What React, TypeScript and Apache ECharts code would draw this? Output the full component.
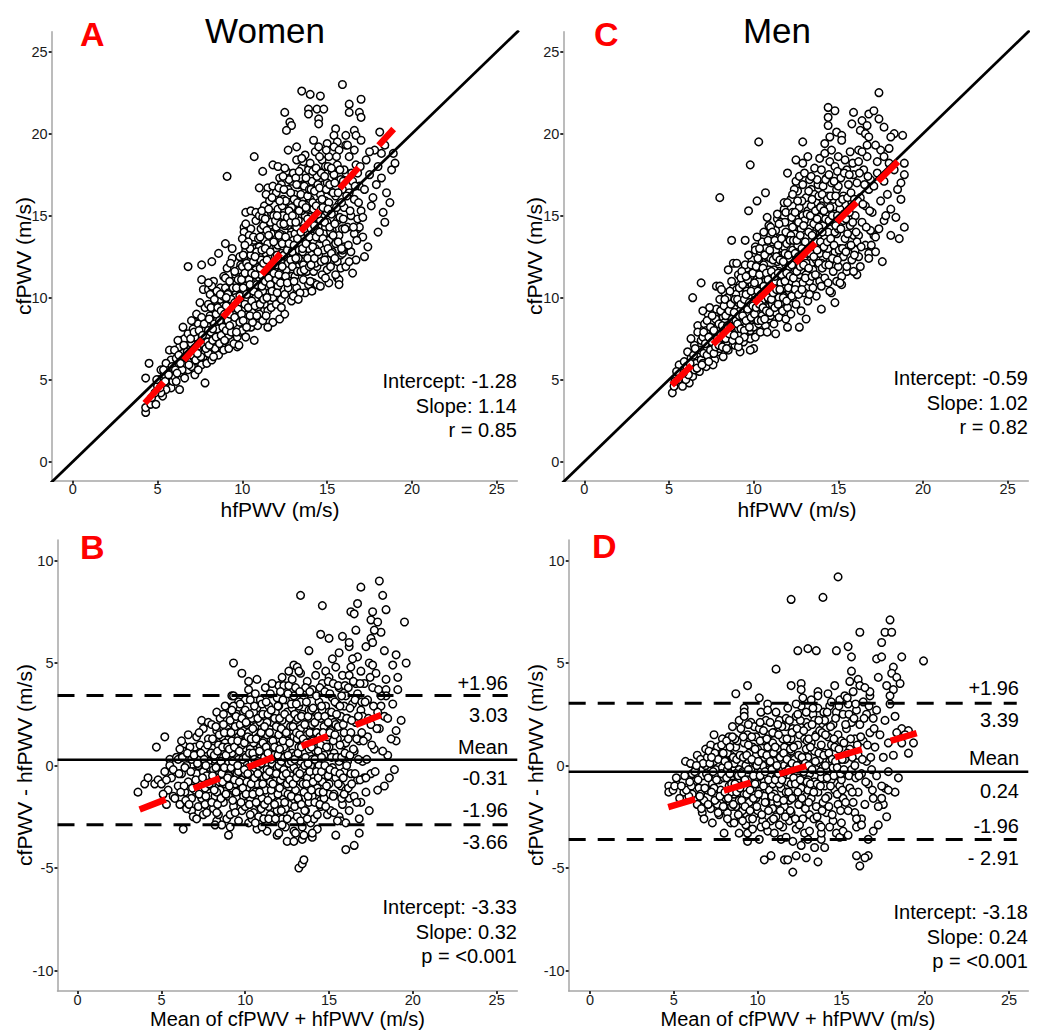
import React, { useEffect, useRef } from "react";
import * as echarts from "echarts";

// ---------- tick values ----------
const xTickValues = [0, 5, 10, 15, 20, 25];
const scatterYTicks = [0, 5, 10, 15, 20, 25];
const baYTicks = [-10, -5, 0, 5, 10];

// ---------- Women: [hfPWV, cfPWV] ----------
const womenScatter: number[][] = [
  [15.9,23.0],[13.5,22.6],[14.0,22.4],[14.6,22.3],[12.5,21.3],[13.9,21.5],[14.4,21.5],[14.8,21.5],[13.9,21.2],[14.5,20.9],[14.5,20.6],[12.8,20.7],[12.9,20.5],[12.6,20.2],[16.3,21.8],[17.0,22.1],[16.3,21.3],[16.9,21.3],[17.0,21.0],[15.5,20.3],[16.1,19.9],[16.6,20.2],[16.7,19.9],[17.0,19.6],[15.4,19.9],[15.6,19.5],[16.1,19.3],[18.1,20.1],[18.2,18.8],[18.9,18.8],[18.8,17.8],[18.0,18.0],[17.7,16.1],[18.3,15.2],[18.4,14.6],[18.0,14.0],[17.0,15.3],[16.8,14.2],[16.9,14.3],[17.1,13.7],[10.7,18.6],[11.8,18.1],[11.2,17.7],[9.1,17.4],[11.0,16.7],[11.5,16.7],[10.2,15.2],[10.5,15.3],[10.8,15.2],[10.1,14.3],[10.1,14.0],[13.2,19.2],[12.7,19.0],[14.2,19.6],
  [4.3,5.1],[4.5,6.0],[4.3,3.0],[4.3,3.3],[4.6,3.5],[4.9,3.5],[5.3,4.0],[5.2,5.6],[5.7,6.8],[5.8,4.5],[6.3,4.4],[7.8,4.8],[10.7,7.4],[9.7,7.0],[6.4,7.4],[6.5,8.2],[7.2,8.5],[6.8,11.9],[7.6,12.0],[8.2,12.2],[8.6,12.7],[7.6,11.1],[7.7,10.5],[8.0,10.5],[15.0,11.7],[15.1,10.9],[15.6,11.2],[15.7,11.1],[15.7,10.8],[14.2,10.9],[14.4,10.8],[15.8,12.6],[15.9,12.7],[13.7,10.3],[13.2,10.3],[11.8,8.5],[12.2,8.7],[12.5,9.0],[11.5,8.2],
  [5.0,4.6],[5.1,5.0],[5.3,4.8],[5.4,5.3],[5.5,4.4],[5.6,5.7],[5.7,5.1],[5.8,6.2],[5.9,5.5],[5.5,6.0],[5.2,4.2],[5.9,4.9],
  [6.0,5.2],[6.1,6.3],[6.2,5.8],[6.3,7.0],[6.4,5.4],[6.5,6.6],[6.6,7.5],[6.7,6.1],[6.8,5.6],[6.9,6.9],[6.0,6.8],[6.2,7.4],[6.4,6.2],[6.6,5.1],[6.8,7.8],[6.9,6.3],[6.5,5.9],[6.1,4.9],
  [7.0,5.8],[7.0,7.2],[7.1,6.4],[7.1,8.1],[7.2,5.3],[7.2,6.9],[7.3,7.7],[7.3,9.0],[7.4,6.1],[7.4,8.4],[7.5,6.7],[7.5,7.4],[7.6,8.8],[7.6,5.9],[7.7,7.9],[7.7,6.4],[7.8,9.4],[7.8,7.1],[7.9,8.3],[7.9,6.0],[7.2,7.6],[7.4,5.6],[7.6,8.1],[7.8,6.7],[7.0,8.6],[7.5,9.7],[7.9,7.6],
  [8.0,6.6],[8.0,8.0],[8.0,9.6],[8.1,7.3],[8.1,10.2],[8.2,6.2],[8.2,8.7],[8.3,7.7],[8.3,9.2],[8.3,11.0],[8.4,6.9],[8.4,8.2],[8.5,10.0],[8.5,7.4],[8.6,9.0],[8.6,6.5],[8.7,8.5],[8.7,10.6],[8.8,7.0],[8.8,9.5],[8.9,8.0],[8.9,11.3],[8.1,8.9],[8.4,9.8],[8.6,7.9],[8.8,8.8],[8.2,10.7],[8.5,8.6],[8.9,6.8],[8.3,6.4],[8.7,9.9],[8.0,10.9],
  [9.0,7.4],[9.0,9.0],[9.0,10.6],[9.1,8.2],[9.1,11.8],[9.2,6.9],[9.2,9.6],[9.3,8.6],[9.3,10.9],[9.4,7.8],[9.4,12.4],[9.5,9.2],[9.5,10.2],[9.5,7.2],[9.6,8.4],[9.6,11.4],[9.7,9.8],[9.7,7.6],[9.8,10.6],[9.8,8.9],[9.9,12.0],[9.9,7.9],[9.0,11.2],[9.2,10.3],[9.4,9.4],[9.6,10.0],[9.8,11.7],[9.1,8.8],[9.3,12.1],[9.7,8.2],[9.9,9.5],[9.5,11.0],[9.2,7.7],[9.8,7.1],[9.4,13.0],[9.0,13.3],
  [10.0,8.0],[10.0,10.0],[10.0,11.9],[10.0,13.6],[10.1,9.0],[10.1,12.5],[10.2,7.6],[10.2,10.7],[10.3,8.6],[10.3,11.4],[10.3,13.1],[10.4,9.6],[10.4,12.0],[10.5,8.2],[10.5,10.3],[10.5,14.2],[10.6,11.0],[10.6,9.2],[10.6,12.8],[10.7,8.8],[10.7,13.5],[10.8,10.0],[10.8,11.7],[10.9,9.4],[10.9,12.3],[10.9,8.3],[10.2,12.9],[10.4,11.1],[10.7,10.6],[10.1,10.4],[10.5,12.6],[10.8,13.0],[10.3,9.9],[10.6,8.5],[10.9,11.1],[10.0,9.3],[10.4,13.8],[10.8,14.7],[10.2,14.5],
  [11.0,9.0],[11.0,11.2],[11.0,13.1],[11.0,15.0],[11.1,10.1],[11.1,12.3],[11.1,14.2],[11.2,8.6],[11.2,11.6],[11.3,9.6],[11.3,13.5],[11.3,15.6],[11.4,10.7],[11.4,12.7],[11.5,9.2],[11.5,11.9],[11.5,14.6],[11.6,10.3],[11.6,13.0],[11.7,11.1],[11.7,15.2],[11.7,9.4],[11.8,12.2],[11.8,14.0],[11.9,10.6],[11.9,13.6],[11.9,16.1],[11.2,14.9],[11.4,16.3],[11.6,12.4],[11.8,10.0],[11.1,11.4],[11.3,12.0],[11.5,13.3],[11.7,13.9],[11.9,11.8],[11.0,10.3],[11.6,15.9],[11.2,10.4],[11.8,16.8],[11.4,8.9],
  [12.0,9.6],[12.0,12.0],[12.0,14.3],[12.0,16.4],[12.1,10.7],[12.1,13.2],[12.1,15.4],[12.2,11.5],[12.2,17.3],[12.3,9.9],[12.3,12.7],[12.3,14.9],[12.4,11.0],[12.4,13.8],[12.4,16.0],[12.5,12.2],[12.5,15.3],[12.5,10.2],[12.6,13.4],[12.6,17.7],[12.6,11.7],[12.7,14.4],[12.7,16.6],[12.7,10.6],[12.8,12.9],[12.8,15.8],[12.9,11.3],[12.9,14.0],[12.9,17.1],[12.2,13.9],[12.4,15.0],[12.6,12.5],[12.8,13.8],[12.0,11.1],[12.3,16.9],[12.5,14.4],[12.7,12.1],[12.9,15.5],[12.1,18.0],[12.5,17.9],[12.8,11.0],[12.3,9.4],[12.9,9.8],
  [13.0,10.1],[13.0,12.6],[13.0,15.1],[13.0,17.6],[13.1,11.3],[13.1,13.9],[13.1,16.3],[13.2,10.6],[13.2,12.9],[13.2,18.4],[13.3,11.9],[13.3,14.7],[13.3,16.9],[13.4,13.3],[13.4,15.6],[13.4,10.3],[13.5,12.2],[13.5,14.2],[13.5,17.9],[13.6,11.1],[13.6,13.6],[13.6,16.1],[13.7,15.0],[13.7,12.6],[13.7,18.7],[13.8,11.6],[13.8,14.0],[13.8,17.0],[13.9,13.0],[13.9,15.7],[13.9,10.8],[13.1,15.0],[13.3,12.4],[13.5,15.3],[13.7,16.6],[13.9,17.8],[13.2,14.3],[13.4,17.3],[13.6,12.0],[13.8,15.4],[13.0,13.5],[13.6,18.3],[13.3,9.9],
  [14.0,11.0],[14.0,13.4],[14.0,16.0],[14.0,18.2],[14.1,12.2],[14.1,14.6],[14.1,17.1],[14.2,11.6],[14.2,15.4],[14.3,13.0],[14.3,16.7],[14.3,18.9],[14.4,11.9],[14.4,14.1],[14.5,15.8],[14.5,12.6],[14.5,17.7],[14.6,13.6],[14.6,16.3],[14.7,11.4],[14.7,14.9],[14.7,18.4],[14.8,12.9],[14.8,16.9],[14.9,14.3],[14.9,15.9],[14.9,11.2],[14.2,13.5],[14.4,17.4],[14.6,14.7],[14.8,13.9],[14.0,14.9],[14.3,12.1],[14.5,19.2],[14.7,16.0],[14.9,18.0],[14.1,10.4],[14.6,10.7],
  [15.0,12.3],[15.0,14.6],[15.0,17.0],[15.1,13.5],[15.1,15.8],[15.1,18.6],[15.2,11.9],[15.2,16.5],[15.3,14.1],[15.3,12.8],[15.3,17.7],[15.4,15.2],[15.4,19.2],[15.5,13.3],[15.5,16.2],[15.6,12.2],[15.6,14.7],[15.6,18.1],[15.7,15.7],[15.7,13.8],[15.8,17.2],[15.8,11.8],[15.9,14.2],[15.9,16.6],[15.2,14.0],[15.4,17.5],[15.7,19.0],[15.9,12.9],[15.0,19.4],[15.5,11.4],
  [16.0,13.1],[16.0,15.5],[16.1,17.6],[16.1,11.9],[16.2,14.3],[16.3,16.4],[16.3,18.6],[16.4,12.8],[16.4,15.0],[16.5,17.1],[16.6,13.9],[16.6,16.0],[16.7,18.1],[16.7,12.3],[16.8,14.8],[16.9,16.8],[16.2,19.3],[16.5,11.5],[16.8,17.6],[16.0,17.8],
  [17.1,14.9],[17.2,16.6],[17.3,18.4],[17.4,13.1],[17.5,17.5],[17.6,15.6],[17.8,19.0],[17.2,12.5],[17.9,16.9],[17.5,18.9],
  [18.2,17.3],[18.5,16.4],[18.4,19.3],[18.7,15.8],[19.0,18.2]
];
const womenScatterCore: number[][] = [
  [5.15,4.5],[5.35,5.6],[5.45,4.9],[5.65,5.3],[5.85,5.8],[4.65,3.9],[4.85,4.2],[4.95,5.0],
  [6.05,5.6],[6.25,6.5],[6.45,5.6],[6.55,7.1],[6.75,6.7],[6.85,5.9],[6.35,6.0],[6.65,6.4],[6.95,7.5],[6.15,5.4],
  [7.05,6.5],[7.15,7.9],[7.25,6.2],[7.35,7.0],[7.45,8.0],[7.55,6.4],[7.65,7.2],[7.75,8.4],[7.85,6.9],[7.95,7.3],[7.35,6.6],[7.65,7.7],
  [8.05,7.1],[8.05,8.7],[8.15,7.9],[8.15,9.4],[8.25,7.4],[8.35,8.4],[8.35,9.9],[8.45,7.6],[8.45,9.0],[8.55,8.1],[8.55,9.4],[8.65,7.2],[8.65,8.6],[8.75,9.2],[8.75,7.7],[8.85,8.2],[8.85,10.1],[8.95,9.0],[8.95,7.4],[8.25,8.1],[8.5,10.4],[8.7,10.2],
  [9.05,8.0],[9.05,9.5],[9.15,10.2],[9.15,8.6],[9.25,9.0],[9.25,11.0],[9.35,7.9],[9.35,9.9],[9.45,8.4],[9.45,10.6],[9.55,9.7],[9.55,8.8],[9.65,10.6],[9.65,7.9],[9.75,9.3],[9.75,11.1],[9.85,8.5],[9.85,10.1],[9.95,9.0],[9.95,11.1],[9.25,8.3],[9.55,11.6],[9.85,12.5],[9.05,10.0],
  [10.05,8.6],[10.05,10.6],[10.05,12.6],[10.15,9.6],[10.15,11.5],[10.25,8.2],[10.25,10.2],[10.25,12.1],[10.35,9.4],[10.35,11.9],[10.45,8.9],[10.45,10.8],[10.45,13.0],[10.55,9.8],[10.55,11.5],[10.65,10.4],[10.65,12.2],[10.65,13.7],[10.75,9.5],[10.75,11.4],[10.85,8.9],[10.85,10.8],[10.85,12.8],[10.95,10.2],[10.95,13.6],[10.35,13.4],[10.75,12.5],[10.15,13.2],
  [11.05,9.6],[11.05,11.8],[11.05,13.7],[11.15,10.7],[11.15,12.9],[11.15,15.3],[11.25,9.9],[11.25,12.1],[11.25,14.4],[11.35,11.0],[11.35,13.0],[11.45,10.0],[11.45,12.3],[11.45,14.1],[11.55,11.2],[11.55,13.8],[11.55,15.4],[11.65,10.8],[11.65,12.8],[11.65,14.6],[11.75,12.0],[11.75,10.4],[11.85,13.4],[11.85,11.5],[11.85,15.0],[11.95,12.5],[11.95,14.7],[11.35,14.8],[11.75,16.1],
  [12.05,10.3],[12.05,12.6],[12.05,15.0],[12.15,11.4],[12.15,13.8],[12.15,16.7],[12.25,12.2],[12.25,14.5],[12.25,10.9],[12.35,13.3],[12.35,15.6],[12.35,11.9],[12.45,12.6],[12.45,14.5],[12.45,16.6],[12.55,11.3],[12.55,13.7],[12.55,15.9],[12.65,12.9],[12.65,14.9],[12.65,10.9],[12.75,13.3],[12.75,15.3],[12.75,17.2],[12.85,12.3],[12.85,14.6],[12.85,16.4],[12.95,12.8],[12.95,15.0],[12.95,11.9],[12.4,17.4],[12.2,15.9],
  [13.05,11.0],[13.05,13.2],[13.05,16.0],[13.15,12.4],[13.15,14.6],[13.15,17.3],[13.25,11.6],[13.25,13.6],[13.25,15.8],[13.35,12.9],[13.35,15.3],[13.35,17.7],[13.45,11.6],[13.45,14.0],[13.45,16.3],[13.55,12.8],[13.55,15.7],[13.55,13.0],[13.65,14.2],[13.65,16.8],[13.65,11.7],[13.75,13.3],[13.75,15.5],[13.75,17.3],[13.85,12.4],[13.85,14.8],[13.85,16.2],[13.95,13.7],[13.95,16.6],[13.95,11.9],[13.5,18.5],[13.2,16.9],
  [14.05,12.0],[14.05,14.2],[14.05,16.6],[14.15,13.1],[14.15,15.8],[14.15,17.7],[14.25,12.4],[14.25,14.4],[14.25,16.5],[14.35,13.7],[14.35,15.6],[14.35,17.9],[14.45,12.8],[14.45,15.1],[14.45,16.9],[14.55,14.0],[14.55,16.7],[14.55,18.6],[14.65,12.2],[14.65,15.4],[14.65,17.6],[14.75,13.6],[14.75,15.5],[14.85,14.6],[14.85,17.4],[14.85,12.3],[14.95,13.3],[14.95,16.6],[14.95,19.0],
  [15.05,13.0],[15.05,15.4],[15.05,18.0],[15.15,14.3],[15.15,16.9],[15.25,12.7],[15.25,15.1],[15.25,17.9],[15.35,13.8],[15.35,16.4],[15.45,14.5],[15.45,12.4],[15.45,17.0],[15.55,15.5],[15.55,18.6],[15.65,13.4],[15.65,16.4],[15.75,14.9],[15.75,17.8],[15.85,13.0],[15.85,15.8],[15.95,17.1],[15.95,14.8],
  [16.05,14.2],[16.15,16.2],[16.25,13.2],[16.35,15.3],[16.45,17.6],[16.55,14.3],[16.65,16.8],[16.75,13.5],[16.85,15.8],[16.95,18.0],[16.3,12.2],[16.6,19.0]
];

// ---------- Men: [hfPWV, cfPWV] ----------
const menScatter: number[][] = [
  [17.4,22.5],[14.4,21.6],[14.8,21.4],[14.4,21.0],[14.4,20.5],[15.9,21.3],[16.8,21.2],[17.1,21.4],[17.4,20.9],[16.4,20.8],[16.7,20.5],[17.7,20.4],[16.3,20.2],[16.6,20.0],[16.8,19.8],[14.9,20.1],[15.2,19.9],[14.5,19.8],[15.8,20.6],[18.8,19.9],[18.3,20.0],[18.1,19.8],[17.5,19.0],[17.7,18.6],[17.3,18.3],[18.0,18.2],[18.9,18.2],[10.3,19.5],[9.8,18.1],[12.9,19.5],[12.5,18.4],[12.9,18.2],[12.0,17.6],[12.5,17.1],[8.0,16.1],[10.7,16.4],[10.2,15.9],[9.7,15.3],[8.7,13.5],[9.5,13.5],[10.1,13.1],[11.0,13.8],[10.8,14.9],[11.4,14.8],[11.8,15.4],[11.9,15.2],[18.9,17.5],[18.7,17.0],[18.7,16.0],[18.9,14.3],[18.1,13.8],[18.6,13.6],[17.7,14.7],[17.1,13.8],[17.2,13.7],
  [5.2,4.2],[5.6,5.9],[6.2,4.8],[5.8,4.6],[5.3,4.6],[6.4,10.0],[6.7,8.3],[6.9,10.9],[7.8,10.7],[8.0,10.7],[8.5,11.7],[8.8,12.1],[12.7,8.2],[12.0,8.2],[13.1,8.7],[14.0,9.3],[14.8,9.7],[15.2,10.8],[14.6,10.3],[14.5,10.4],[16.1,11.4],[15.5,11.6],[16.2,12.5],[16.8,12.7],[10.0,6.9],[9.8,6.8],[9.2,6.7],[11.3,7.8],
  [5.7,5.3],[5.9,6.1],[6.0,5.0],[6.1,6.7],[6.2,5.6],[6.3,6.3],[6.4,5.2],[6.5,7.1],[6.6,6.0],[6.7,6.6],[6.8,5.5],[6.9,7.4],[6.5,5.6],[6.9,6.2],[6.3,7.5],[6.7,7.9],
  [7.0,6.0],[7.0,7.6],[7.1,6.8],[7.1,8.4],[7.2,5.8],[7.3,7.2],[7.3,9.0],[7.4,6.4],[7.5,7.9],[7.5,6.9],[7.6,8.6],[7.7,6.2],[7.7,7.4],[7.8,9.3],[7.8,8.1],[7.9,6.7],[7.9,7.7],[7.2,8.0],[7.4,9.4],[7.6,5.9],[7.0,9.2],
  [8.0,6.9],[8.0,8.4],[8.0,9.9],[8.1,7.6],[8.1,9.1],[8.2,6.4],[8.2,8.8],[8.3,7.2],[8.3,10.3],[8.4,8.0],[8.4,9.5],[8.5,6.8],[8.5,8.6],[8.6,7.5],[8.6,10.0],[8.7,9.0],[8.7,7.9],[8.8,8.4],[8.8,10.6],[8.9,7.1],[8.9,9.4],[8.1,10.5],[8.3,8.5],[8.5,9.8],[8.7,11.0],[8.9,8.1],[8.4,7.3],[8.6,8.9],[8.0,7.5],[8.8,9.8],
  [9.0,7.4],[9.0,8.9],[9.0,10.5],[9.1,8.1],[9.1,9.7],[9.1,11.4],[9.2,7.7],[9.2,9.2],[9.3,8.5],[9.3,10.2],[9.4,7.3],[9.4,9.6],[9.4,11.1],[9.5,8.2],[9.5,10.6],[9.6,7.9],[9.6,9.0],[9.6,11.8],[9.7,8.6],[9.7,10.0],[9.8,7.5],[9.8,9.4],[9.8,11.3],[9.9,8.3],[9.9,10.8],[9.9,12.3],[9.2,10.8],[9.5,12.0],[9.0,12.1],[9.3,11.6],[9.7,12.6],[9.4,8.8],[9.8,8.0],[9.6,10.4],[9.1,7.0],
  [10.0,8.2],[10.0,9.8],[10.0,11.6],[10.1,7.6],[10.1,10.5],[10.1,12.9],[10.2,9.0],[10.2,11.1],[10.3,8.4],[10.3,10.0],[10.3,12.3],[10.4,9.5],[10.4,11.5],[10.4,7.9],[10.5,10.8],[10.5,13.4],[10.5,8.9],[10.6,9.9],[10.6,12.0],[10.7,8.3],[10.7,11.0],[10.7,13.0],[10.8,9.4],[10.8,10.4],[10.8,12.5],[10.9,8.7],[10.9,11.7],[10.2,13.7],[10.6,14.0],[10.9,14.4],[10.0,10.6],[10.4,12.8],[10.8,7.9],[10.3,11.0],[10.6,10.7],[10.9,9.9],[10.1,8.8],
  [11.0,8.9],[11.0,10.7],[11.0,12.4],[11.1,9.6],[11.1,11.5],[11.1,13.4],[11.2,8.4],[11.2,10.2],[11.2,12.8],[11.3,9.1],[11.3,11.0],[11.3,14.1],[11.4,10.4],[11.4,12.2],[11.5,8.8],[11.5,11.6],[11.5,13.6],[11.6,9.7],[11.6,10.9],[11.6,14.6],[11.7,12.6],[11.7,9.2],[11.8,11.2],[11.8,13.1],[11.8,10.1],[11.9,12.0],[11.9,14.0],[11.9,8.7],[11.0,14.3],[11.4,15.1],[11.2,11.7],[11.6,12.4],[11.8,15.8],[11.3,12.9],[11.5,10.0],[11.7,11.5],[11.9,10.6],
  [12.0,9.4],[12.0,11.4],[12.0,13.5],[12.1,10.4],[12.1,12.4],[12.1,14.6],[12.2,9.0],[12.2,11.0],[12.2,16.0],[12.3,12.9],[12.3,10.0],[12.3,15.2],[12.4,11.8],[12.4,13.9],[12.5,9.6],[12.5,12.3],[12.5,14.8],[12.6,10.6],[12.6,13.2],[12.6,16.5],[12.7,11.4],[12.7,15.5],[12.8,12.6],[12.8,9.2],[12.8,14.2],[12.9,10.9],[12.9,13.6],[12.9,16.9],[12.0,15.8],[12.4,16.6],[12.7,17.4],[12.2,13.8],[12.6,12.0],[12.9,15.0],[12.1,11.9],[12.5,10.8],[12.8,11.7],[12.3,14.3],
  [13.0,10.3],[13.0,12.5],[13.0,14.7],[13.1,11.4],[13.1,13.7],[13.1,16.1],[13.2,9.8],[13.2,12.9],[13.2,15.3],[13.3,11.0],[13.3,14.2],[13.3,17.2],[13.4,12.1],[13.4,13.4],[13.4,16.6],[13.5,10.6],[13.5,15.0],[13.5,11.7],[13.6,13.0],[13.6,14.5],[13.6,17.9],[13.7,12.3],[13.7,15.8],[13.7,10.1],[13.8,13.8],[13.8,11.3],[13.8,16.9],[13.9,12.7],[13.9,14.9],[13.9,18.5],[13.0,17.6],[13.2,18.6],[13.4,15.6],[13.6,16.3],[13.8,15.4],[13.1,12.1],[13.5,13.9],[13.9,11.0],[13.3,10.2],
  [14.0,10.7],[14.0,13.1],[14.0,15.6],[14.0,17.8],[14.1,12.0],[14.1,14.4],[14.1,16.8],[14.2,11.2],[14.2,13.6],[14.2,18.8],[14.3,15.0],[14.3,12.6],[14.3,17.3],[14.4,10.9],[14.4,14.0],[14.4,16.2],[14.5,12.2],[14.5,15.5],[14.5,18.3],[14.6,13.3],[14.6,17.0],[14.7,11.6],[14.7,14.6],[14.7,16.0],[14.8,12.8],[14.8,18.0],[14.8,15.1],[14.9,13.9],[14.9,11.0],[14.9,16.6],[14.2,19.4],[14.6,19.0],[14.0,12.1],[14.4,13.0],[14.8,14.0],
  [15.0,11.9],[15.0,14.2],[15.0,16.8],[15.0,18.6],[15.1,13.0],[15.1,15.4],[15.2,11.3],[15.2,17.6],[15.3,14.7],[15.3,12.5],[15.3,16.2],[15.4,13.6],[15.4,18.4],[15.5,15.1],[15.5,11.9],[15.6,16.9],[15.6,13.1],[15.7,14.4],[15.7,18.9],[15.8,12.3],[15.8,15.8],[15.9,17.5],[15.9,13.8],[15.2,19.6],[15.5,17.8],[15.9,11.6],[15.1,10.9],
  [16.0,12.9],[16.0,15.0],[16.1,17.0],[16.2,13.8],[16.2,19.0],[16.3,16.1],[16.3,11.9],[16.4,14.6],[16.5,17.8],[16.6,13.2],[16.6,15.6],[16.7,18.6],[16.8,12.4],[16.8,16.6],[16.9,14.1],[16.4,18.9],[16.1,13.4],[16.9,17.2],
  [17.0,15.2],[17.1,16.8],[17.2,12.8],[17.3,17.6],[17.4,14.2],[17.5,15.9],[17.6,12.2],[17.7,17.1],[17.8,15.0],[17.9,16.3],[18.1,15.4],[18.3,17.8],[18.4,14.9],[18.5,16.6],[17.2,19.3],[18.0,19.1]
];
const menScatterCore: number[][] = [
  [6.05,5.8],[6.25,6.0],[6.45,6.5],[6.65,5.7],[6.85,6.8],[6.15,5.3],[6.55,6.9],[6.95,5.9],[5.85,5.4],[5.55,5.0],[5.45,5.5],[5.35,4.9],
  [7.05,6.6],[7.05,7.9],[7.15,7.2],[7.25,6.5],[7.25,8.6],[7.35,7.6],[7.45,6.8],[7.45,8.2],[7.55,7.3],[7.65,6.6],[7.65,8.0],[7.75,7.0],[7.75,8.7],[7.85,7.5],[7.95,8.4],[7.95,7.1],[7.35,6.1],[7.55,8.9],
  [8.05,7.8],[8.05,9.2],[8.15,8.3],[8.15,7.0],[8.25,9.5],[8.25,7.8],[8.35,8.9],[8.35,7.5],[8.45,8.3],[8.45,10.0],[8.55,7.8],[8.55,9.2],[8.65,8.2],[8.65,9.6],[8.75,7.4],[8.75,8.7],[8.85,9.1],[8.85,7.7],[8.95,8.6],[8.95,10.2],[8.4,6.9],[8.6,10.4],[8.3,9.9],[8.9,9.9],
  [9.05,8.4],[9.05,9.9],[9.15,8.9],[9.15,10.6],[9.25,8.1],[9.25,9.6],[9.35,8.9],[9.35,10.8],[9.45,8.0],[9.45,9.9],[9.55,8.6],[9.55,10.2],[9.65,9.3],[9.65,11.1],[9.75,8.2],[9.75,9.7],[9.85,10.4],[9.85,8.8],[9.95,9.5],[9.95,11.5],[9.25,11.2],[9.55,11.3],[9.85,12.0],[9.45,7.6],[9.15,7.4],
  [10.05,9.0],[10.05,10.9],[10.15,9.4],[10.15,11.9],[10.25,8.6],[10.25,10.4],[10.35,9.6],[10.35,11.4],[10.35,13.0],[10.45,8.6],[10.45,10.2],[10.55,9.4],[10.55,11.8],[10.65,10.3],[10.65,12.6],[10.75,9.2],[10.75,11.5],[10.85,10.0],[10.85,11.1],[10.95,9.1],[10.95,10.6],[10.95,12.9],[10.25,12.4],[10.65,8.7],[10.85,13.5],
  [11.05,9.9],[11.05,11.6],[11.15,10.3],[11.15,12.3],[11.25,9.4],[11.25,11.3],[11.25,13.5],[11.35,10.5],[11.35,12.5],[11.45,9.6],[11.45,11.5],[11.45,13.2],[11.55,10.5],[11.55,12.3],[11.65,11.4],[11.65,13.6],[11.75,10.0],[11.75,12.2],[11.85,11.0],[11.85,12.7],[11.85,14.6],[11.95,9.8],[11.95,11.5],[11.95,13.3],[11.5,14.5],[11.1,14.0],
  [12.05,10.6],[12.05,12.6],[12.15,11.3],[12.15,13.5],[12.25,10.1],[12.25,12.0],[12.25,14.9],[12.35,11.2],[12.35,13.5],[12.45,10.5],[12.45,12.7],[12.45,15.2],[12.55,11.6],[12.55,13.5],[12.65,10.2],[12.65,12.5],[12.65,14.6],[12.75,11.9],[12.75,13.8],[12.85,10.5],[12.85,13.0],[12.85,15.9],[12.95,12.0],[12.95,14.4],[12.3,16.3],[12.6,15.9],
  [13.05,11.2],[13.05,13.4],[13.15,12.7],[13.15,15.1],[13.25,11.8],[13.25,14.0],[13.25,16.5],[13.35,12.7],[13.35,15.0],[13.45,11.3],[13.45,13.8],[13.45,16.0],[13.55,12.5],[13.55,14.5],[13.65,11.4],[13.65,13.4],[13.65,15.3],[13.75,12.9],[13.75,14.8],[13.75,17.2],[13.85,12.1],[13.85,14.3],[13.85,16.2],[13.95,13.4],[13.95,15.5],[13.4,17.4],
  [14.05,11.8],[14.05,14.0],[14.05,16.3],[14.15,13.1],[14.15,15.3],[14.25,12.0],[14.25,14.8],[14.25,17.2],[14.35,13.4],[14.35,16.0],[14.45,12.0],[14.45,14.7],[14.45,17.5],[14.55,13.6],[14.55,16.2],[14.65,12.4],[14.65,15.0],[14.75,13.2],[14.75,17.1],[14.85,14.4],[14.85,16.2],[14.95,12.3],[14.95,15.0],[14.95,17.7],
  [15.05,12.9],[15.05,15.8],[15.15,14.2],[15.15,17.3],[15.25,13.0],[15.25,16.0],[15.35,15.1],[15.35,17.6],[15.45,12.8],[15.45,14.8],[15.55,16.1],[15.55,13.9],[15.65,15.2],[15.65,17.5],[15.75,13.2],[15.75,16.4],[15.85,14.6],[15.85,18.2],[15.95,16.0],[15.95,12.6],
  [16.05,14.0],[16.15,15.9],[16.25,17.6],[16.35,13.1],[16.45,15.7],[16.55,16.9],[16.65,14.3],[16.75,17.4],[16.85,15.3],[16.95,13.2],[16.2,18.3],[16.7,19.3]
];

// ---------- Women Bland-Altman: [mean, difference] ----------
const womenBA: number[][] = [
  [18.0,9.0],[16.9,8.7],[18.2,8.3],[13.3,8.3],[16.7,7.9],[14.6,7.8],[18.4,7.6],[16.3,7.5],[16.5,7.4],[17.6,7.5],[17.5,7.1],[17.9,7.0],[18.1,6.5],[19.5,7.0],[14.5,6.4],[15.0,6.2],[15.8,6.3],[17.5,6.2],[17.6,6.0],[13.8,5.6],[16.2,5.8],[16.7,5.3],[19.0,5.4],[19.6,5.0],[9.3,5.0],[12.9,4.9],[13.1,4.8],[13.3,4.5],[9.8,4.5],[10.2,4.1],[10.7,4.2],[9.2,3.4],[9.6,3.1],[10.0,3.2],[9.0,2.8],[9.3,2.6],[5.2,1.4],[4.7,0.9],[6.3,1.0],[7.0,0.9],[5.5,0.3],[18.5,0.5],[19.0,1.7],[19.0,1.2],
  [12.0,3.9],[12.3,3.9],[18.8,4.9],[19.1,4.3],[18.4,3.7],[18.4,3.4],[18.1,2.9],[18.3,2.4],
  [3.6,-1.3],[4.0,-0.9],[4.2,-0.6],[4.6,-0.9],[4.8,-0.7],[5.3,-1.9],[5.7,-1.5],[6.3,-3.1],[6.8,-2.2],[7.5,-2.4],[8.3,-2.7],[9.0,-3.4],[11.9,-3.4],[12.5,-3.7],[12.9,-3.7],[13.4,-3.6],[14.0,-3.5],[13.2,-5.0],[13.4,-4.8],[13.5,-4.6],[15.4,-3.4],[16.0,-4.1],[16.5,-3.9],[16.8,-3.3],[15.6,-2.5],[15.7,-2.7],[16.2,-1.6],[16.9,-1.8],[18.3,-1.0],[15.0,-1.4],[14.5,-1.7],[17.1,-0.6],[18.9,-0.2],
  [5.0,-0.9],[5.2,-0.3],[5.4,-1.2],[5.5,0.0],[5.6,-0.6],[5.8,-1.6],[5.9,0.4],[5.3,-0.7],[5.7,-0.2],[5.1,-1.4],
  [6.0,-1.0],[6.0,0.3],[6.1,-1.9],[6.2,-0.4],[6.3,0.7],[6.4,-1.3],[6.5,0.0],[6.5,-2.1],[6.6,-0.8],[6.7,0.9],[6.8,-1.6],[6.8,0.3],[6.9,-0.3],[6.2,1.2],[6.6,1.5],[6.9,-2.5],[6.4,-0.1],[6.1,0.8],
  [7.0,-1.2],[7.0,0.5],[7.1,-0.4],[7.1,1.4],[7.2,-2.0],[7.2,0.0],[7.3,-0.9],[7.3,1.0],[7.4,-1.6],[7.4,0.4],[7.5,-0.3],[7.5,1.8],[7.6,-1.1],[7.6,0.8],[7.7,-2.3],[7.7,-0.5],[7.8,0.2],[7.8,1.3],[7.9,-1.5],[7.9,-0.1],[7.1,-2.6],[7.4,2.2],[7.8,2.1],[7.6,-1.9],[7.3,0.3],
  [8.0,-1.0],[8.0,0.6],[8.0,2.0],[8.1,-2.1],[8.1,-0.2],[8.1,1.2],[8.2,-1.5],[8.2,0.3],[8.3,-0.6],[8.3,1.7],[8.3,2.6],[8.4,-2.4],[8.4,0.0],[8.5,-1.2],[8.5,0.9],[8.5,2.3],[8.6,-0.4],[8.6,1.4],[8.7,-1.8],[8.7,0.4],[8.8,-0.9],[8.8,1.1],[8.8,2.9],[8.9,-2.6],[8.9,-0.1],[8.9,1.8],[8.2,-2.9],[8.6,-2.9],[8.4,1.0],[8.7,2.0],[8.0,-1.8],[8.3,-1.3],
  [9.0,-1.5],[9.0,0.1],[9.0,1.6],[9.1,-2.4],[9.1,-0.6],[9.1,2.2],[9.2,-1.1],[9.2,0.6],[9.2,1.2],[9.3,-0.2],[9.3,-2.0],[9.3,2.9],[9.4,-0.9],[9.4,0.9],[9.4,1.9],[9.5,-1.6],[9.5,-0.4],[9.5,2.5],[9.6,0.3],[9.6,1.4],[9.6,-2.7],[9.7,-1.2],[9.7,0.0],[9.7,2.0],[9.8,-0.7],[9.8,1.0],[9.8,-2.2],[9.9,0.5],[9.9,1.7],[9.9,-1.5],[9.3,3.4],[9.7,3.0],[9.1,-3.0],[9.5,0.8],[9.9,2.6],[9.0,-0.5],[9.6,-0.3],
  [10.0,-2.0],[10.0,-0.4],[10.0,1.2],[10.0,2.7],[10.1,-1.1],[10.1,0.4],[10.1,2.0],[10.2,-2.8],[10.2,-0.1],[10.2,1.6],[10.3,-1.6],[10.3,0.8],[10.3,3.2],[10.4,-0.7],[10.4,0.2],[10.4,2.3],[10.5,-2.3],[10.5,1.1],[10.5,-0.3],[10.6,-1.3],[10.6,0.6],[10.6,1.9],[10.7,-0.9],[10.7,2.8],[10.7,-3.1],[10.8,0.0],[10.8,1.4],[10.8,-1.9],[10.9,0.9],[10.9,-0.5],[10.9,2.1],[10.2,3.7],[10.6,3.5],[10.4,-2.6],[10.8,-2.5],[10.1,-0.8],[10.5,2.6],[10.9,3.2],[10.3,-0.4],
  [11.0,-1.6],[11.0,0.2],[11.0,1.8],[11.0,3.0],[11.1,-0.6],[11.1,1.2],[11.1,-2.6],[11.2,0.7],[11.2,2.4],[11.2,-1.2],[11.3,-0.2],[11.3,1.5],[11.3,-3.2],[11.4,0.4],[11.4,2.9],[11.4,-2.0],[11.5,-0.8],[11.5,1.0],[11.5,3.5],[11.6,-1.5],[11.6,0.1],[11.6,2.1],[11.7,-0.4],[11.7,1.6],[11.7,-2.7],[11.8,0.8],[11.8,2.6],[11.8,-1.0],[11.9,-0.1],[11.9,1.3],[11.9,-2.2],[11.2,3.8],[11.6,4.0],[11.0,-3.0],[11.5,-2.4],[11.9,3.3],[11.3,2.1],[11.7,0.5],
  [12.0,-1.8],[12.0,0.0],[12.0,1.5],[12.0,2.9],[12.1,-0.7],[12.1,1.0],[12.1,3.6],[12.2,-2.6],[12.2,0.4],[12.2,2.2],[12.3,-1.3],[12.3,-0.2],[12.3,1.7],[12.4,0.8],[12.4,-3.0],[12.4,3.2],[12.5,-0.9],[12.5,1.2],[12.5,2.6],[12.6,-1.9],[12.6,0.1],[12.6,3.9],[12.7,-0.5],[12.7,1.9],[12.7,-2.4],[12.8,0.6],[12.8,2.8],[12.8,-1.4],[12.9,-0.1],[12.9,1.4],[12.9,3.4],[12.9,-3.2],[12.2,4.3],[12.6,4.6],[12.4,-2.1],[12.0,-3.3],[12.8,4.2],[12.3,0.9],
  [13.0,-1.2],[13.0,0.5],[13.0,2.2],[13.0,3.8],[13.1,-2.5],[13.1,-0.3],[13.1,1.3],[13.2,0.9],[13.2,2.9],[13.2,-1.7],[13.3,-0.8],[13.3,0.2],[13.3,1.8],[13.4,-3.0],[13.4,2.5],[13.4,-0.2],[13.5,1.1],[13.5,3.3],[13.5,-1.3],[13.6,-2.2],[13.6,0.4],[13.6,2.0],[13.7,-0.6],[13.7,1.5],[13.7,4.1],[13.8,-1.8],[13.8,0.8],[13.8,2.7],[13.9,0.0],[13.9,3.5],[13.9,-2.8],[13.2,4.6],[13.6,3.8],[13.0,-3.3],[13.5,-3.4],[13.9,1.9],[13.3,3.1],
  [14.0,-1.5],[14.0,0.3],[14.0,2.0],[14.0,3.7],[14.1,-0.5],[14.1,1.2],[14.1,-2.6],[14.2,0.7],[14.2,2.6],[14.2,4.4],[14.3,-1.1],[14.3,1.6],[14.3,-3.1],[14.4,0.0],[14.4,3.1],[14.5,-2.0],[14.5,1.0],[14.5,2.3],[14.6,-0.8],[14.6,4.0],[14.7,0.5],[14.7,1.9],[14.7,-1.6],[14.8,2.9],[14.8,-0.2],[14.9,1.4],[14.9,3.5],[14.9,-2.4],[14.3,4.9],[14.8,4.6],[14.0,-3.3],[14.6,2.7],[14.4,-1.3],
  [15.0,-0.9],[15.0,0.9],[15.0,2.6],[15.0,4.3],[15.1,-2.2],[15.1,1.7],[15.2,-0.1],[15.2,3.3],[15.3,-1.4],[15.3,0.6],[15.3,2.1],[15.4,4.8],[15.4,-0.6],[15.5,1.3],[15.5,3.0],[15.5,-2.7],[15.6,0.2],[15.6,3.8],[15.7,-1.0],[15.7,2.4],[15.8,1.0],[15.8,4.4],[15.8,-1.9],[15.9,-0.3],[15.9,2.9],[15.2,5.2],[15.6,5.5],[15.4,2.0],[15.9,1.6],
  [16.0,-1.2],[16.0,1.1],[16.0,3.4],[16.1,0.2],[16.1,2.3],[16.2,4.4],[16.2,-2.2],[16.3,1.6],[16.3,-0.4],[16.4,3.0],[16.4,5.2],[16.5,0.7],[16.5,-1.5],[16.6,2.1],[16.6,4.0],[16.7,-0.7],[16.7,3.5],[16.8,1.2],[16.8,-2.6],[16.9,2.7],[16.9,4.6],[16.2,6.0],[16.6,6.6],[16.0,-2.8],
  [17.0,0.2],[17.0,2.4],[17.1,4.0],[17.2,-1.3],[17.3,1.4],[17.3,3.2],[17.4,5.0],[17.5,-0.4],[17.5,2.0],[17.6,3.8],[17.7,0.8],[17.8,4.5],[17.9,2.6],[17.9,-1.2],[17.2,5.8],[17.7,6.6],[17.4,-2.2],
  [18.0,1.8],[18.1,3.4],[18.2,0.7],[18.4,4.2],[18.5,2.3],[18.7,1.3],[18.8,3.0],[18.3,5.6],[19.1,3.7],[19.3,2.2],[18.6,-0.6]
];
const womenBACore: number[][] = [
  [6.05,-0.4],[6.25,0.4],[6.35,-1.0],[6.55,0.6],[6.75,-0.3],[6.85,-1.1],[6.95,0.5],[6.45,-1.7],[6.15,-1.3],[6.65,-1.9],
  [7.05,-0.7],[7.15,0.1],[7.25,-1.4],[7.35,0.6],[7.45,-0.6],[7.55,0.3],[7.65,-1.5],[7.75,1.0],[7.85,-0.9],[7.95,0.6],[7.25,1.6],[7.65,0.0],
  [8.05,-0.5],[8.05,1.3],[8.15,-1.2],[8.15,0.5],[8.25,-0.1],[8.25,1.9],[8.35,-1.9],[8.35,0.7],[8.45,-0.8],[8.45,1.5],[8.55,0.2],[8.55,-1.6],[8.65,0.9],[8.65,-0.8],[8.75,-0.1],[8.75,1.6],[8.85,-1.4],[8.85,0.5],[8.95,0.9],[8.95,-0.6],[8.3,-2.3],[8.7,2.5],
  [9.05,-1.0],[9.05,0.8],[9.15,-0.1],[9.15,1.6],[9.25,-1.7],[9.25,0.2],[9.35,0.9],[9.35,-0.7],[9.45,2.4],[9.45,-1.3],[9.55,0.0],[9.55,1.2],[9.65,-0.8],[9.65,0.7],[9.75,-1.8],[9.75,1.6],[9.85,0.3],[9.85,-1.1],[9.95,1.1],[9.95,-0.2],[9.4,-2.3],[9.8,2.3],[9.2,2.7],
  [10.05,-1.4],[10.05,0.4],[10.05,2.1],[10.15,-0.4],[10.15,1.4],[10.25,-1.9],[10.25,0.6],[10.25,2.5],[10.35,-0.9],[10.35,1.3],[10.45,-1.4],[10.45,0.6],[10.45,1.8],[10.55,-0.6],[10.55,0.3],[10.55,2.9],[10.65,-1.8],[10.65,1.3],[10.75,0.2],[10.75,-0.4],[10.75,2.3],[10.85,-1.3],[10.85,0.7],[10.95,-2.1],[10.95,1.6],[10.95,0.1],[10.3,-2.4],[10.6,-2.8],
  [11.05,-0.9],[11.05,1.1],[11.05,2.5],[11.15,-1.9],[11.15,0.4],[11.15,1.9],[11.25,-0.5],[11.25,0.9],[11.25,3.1],[11.35,-1.7],[11.35,0.6],[11.35,2.5],[11.45,-0.3],[11.45,1.6],[11.55,-1.2],[11.55,0.3],[11.55,2.7],[11.65,-0.9],[11.65,1.2],[11.75,-1.9],[11.75,0.9],[11.75,2.3],[11.85,-0.4],[11.85,1.9],[11.95,-1.4],[11.95,0.5],[11.95,2.9],[11.4,-2.6],[11.8,-2.6],
  [12.05,-1.1],[12.05,0.8],[12.05,2.3],[12.15,-2.2],[12.15,0.2],[12.15,1.8],[12.25,-0.5],[12.25,1.2],[12.25,3.2],[12.35,-1.8],[12.35,0.4],[12.35,2.5],[12.45,-0.4],[12.45,1.6],[12.55,-1.4],[12.55,0.5],[12.55,3.5],[12.65,-0.7],[12.65,1.1],[12.65,2.3],[12.75,-1.5],[12.75,0.2],[12.75,3.0],[12.85,-0.9],[12.85,1.9],[12.95,-2.0],[12.95,0.3],[12.95,2.5],[12.5,-2.6],[12.2,-2.9],
  [13.05,-0.6],[13.05,1.6],[13.05,3.0],[13.15,-1.6],[13.15,0.6],[13.15,2.3],[13.25,-0.4],[13.25,1.5],[13.25,3.6],[13.35,-1.9],[13.35,0.9],[13.35,2.4],[13.45,-0.9],[13.45,1.3],[13.55,0.0],[13.55,2.0],[13.55,-2.2],[13.65,-0.9],[13.65,1.1],[13.65,3.1],[13.75,-1.5],[13.75,0.1],[13.75,2.4],[13.85,-0.3],[13.85,1.6],[13.85,3.6],[13.95,-1.2],[13.95,0.9],[13.95,2.7],[13.3,-2.7],[13.7,-2.6],
  [14.05,-0.8],[14.05,1.2],[14.05,2.8],[14.15,0.3],[14.15,2.1],[14.15,-1.8],[14.25,-0.3],[14.25,1.6],[14.25,3.4],[14.35,-0.6],[14.35,0.7],[14.35,2.4],[14.45,-1.9],[14.45,1.4],[14.45,3.8],[14.55,-0.3],[14.55,0.4],[14.55,2.9],[14.65,-1.3],[14.65,1.6],[14.75,0.0],[14.75,2.4],[14.75,3.6],[14.85,-1.0],[14.85,0.9],[14.95,-0.5],[14.95,2.1],[14.95,4.1],[14.3,-2.4],[14.8,-2.0],
  [15.05,-0.2],[15.05,1.6],[15.05,3.5],[15.15,0.4],[15.15,2.6],[15.25,-1.5],[15.25,1.2],[15.25,4.0],[15.35,-0.3],[15.35,1.5],[15.35,3.1],[15.45,0.4],[15.45,2.5],[15.55,-0.9],[15.55,1.9],[15.55,3.9],[15.65,-0.4],[15.65,1.0],[15.65,2.9],[15.75,-1.6],[15.75,0.4],[15.75,3.4],[15.85,-0.6],[15.85,2.0],[15.95,0.6],[15.95,3.9],[15.3,-2.3],[15.9,-1.4],
  [16.05,0.0],[16.05,2.3],[16.15,-1.1],[16.15,1.3],[16.15,3.8],[16.25,0.5],[16.25,2.8],[16.35,-0.9],[16.35,2.2],[16.45,0.8],[16.45,4.1],[16.55,-0.4],[16.55,3.2],[16.65,1.3],[16.65,-1.8],[16.75,0.3],[16.75,2.4],[16.85,4.0],[16.85,-0.7],[16.95,1.6],[16.95,3.1],[16.3,4.8],
  [17.05,1.2],[17.15,3.1],[17.25,0.3],[17.35,2.3],[17.45,4.3],[17.55,1.0],[17.65,2.9],[17.75,-0.3],[17.85,1.8],[17.95,3.7],[17.2,-0.6],[17.6,4.9]
];

// ---------- Men Bland-Altman: [mean, difference] ----------
const menBA: number[][] = [
  [14.8,9.2],[12.0,8.1],[13.9,8.2],[17.9,7.1],[17.6,6.5],[18.0,6.5],[16.1,6.5],[17.4,6.0],[12.4,5.6],[13.0,5.7],[13.5,5.6],[14.7,5.6],[15.4,5.8],[15.6,5.3],[17.1,5.2],[17.4,5.3],[18.6,5.3],[18.1,4.8],[19.9,5.1],[11.1,4.7],[9.4,3.9],[8.7,3.5],[12.0,3.9],[12.6,4.0],[12.6,3.7],[13.6,3.6],[9.2,2.8],[9.2,2.6],[10.1,3.3],[10.6,3.0],[7.4,1.5],[5.7,0.2],[19.3,1.1],[18.6,1.8],[19.0,1.7],
  [15.6,4.6],[16.0,4.2],[16.1,3.9],[17.2,4.3],[18.0,4.5],[18.3,4.3],[17.7,3.9],[18.1,3.7],[17.9,3.4],[18.5,4.0],[16.7,3.4],
  [4.7,-1.0],[5.2,-0.9],[5.6,-1.3],[6.1,-1.4],[5.9,-1.5],[4.7,-1.3],[6.7,-2.3],[7.4,-2.0],[8.0,-3.3],[8.9,-3.3],[9.4,-3.3],[9.4,-3.7],[10.4,-4.6],[10.8,-4.4],[11.6,-4.6],[11.8,-4.6],[12.3,-4.4],[12.9,-4.5],[13.6,-4.7],[12.1,-5.2],[15.9,-4.4],[16.6,-4.4],[16.1,-4.9],[16.4,-4.5],[15.8,-2.3],[16.2,-2.6],[17.2,-2.9],[16.9,-3.2],[15.9,-3.0],[17.6,-1.1],[18.2,-1.3],[17.5,-1.9],[17.4,-1.6],[17.8,-1.2],[14.7,-3.3],[14.9,-3.5],[15.1,-3.2],[15.4,-3.4],[13.0,-3.6],[13.8,-3.6],[14.0,-4.0],[13.4,-4.0],[16.6,-3.6],[6.0,0.1],[6.4,0.5],
  [6.2,-0.8],[6.3,-0.2],[6.5,-1.1],[6.6,0.3],[6.7,-0.5],[6.8,-1.7],[6.9,0.0],[6.4,-1.9],[6.6,-1.4],[6.9,0.8],[6.1,-0.4],[6.8,-2.6],
  [7.0,-1.2],[7.0,0.4],[7.1,-0.5],[7.2,-2.1],[7.2,1.0],[7.3,-0.9],[7.4,0.2],[7.5,-1.5],[7.5,-0.2],[7.6,0.9],[7.7,-2.4],[7.7,-0.7],[7.8,0.4],[7.8,-1.2],[7.9,1.3],[7.9,-0.1],[7.3,-2.8],[7.6,-1.9],[7.1,0.7],[7.4,-1.1],
  [8.0,-0.6],[8.0,0.9],[8.1,-1.6],[8.1,0.2],[8.2,-2.3],[8.2,-0.2],[8.3,1.4],[8.3,-1.0],[8.4,0.5],[8.4,-2.8],[8.5,-0.5],[8.5,1.9],[8.6,-1.4],[8.6,0.1],[8.7,0.9],[8.7,-2.0],[8.8,-0.8],[8.8,1.2],[8.9,-0.2],[8.9,-1.7],[8.0,-2.0],[8.4,-1.3],[8.6,-2.8],[8.9,2.2],[8.2,0.6],[8.7,-0.4],
  [9.0,-1.0],[9.0,0.5],[9.0,1.8],[9.1,-0.3],[9.1,-2.2],[9.2,1.1],[9.2,-1.4],[9.3,0.0],[9.3,-2.9],[9.4,1.5],[9.4,-0.7],[9.5,0.6],[9.5,-1.8],[9.6,-0.2],[9.6,2.1],[9.7,-1.1],[9.7,0.9],[9.8,-2.4],[9.8,0.2],[9.9,-0.6],[9.9,1.4],[9.9,-1.6],[9.2,2.4],[9.5,-2.6],[9.7,-3.1],[9.0,-2.6],[9.4,0.3],[9.8,1.9],[9.3,-1.1],
  [10.0,-0.9],[10.0,0.8],[10.0,-2.2],[10.1,0.1],[10.1,1.8],[10.2,-1.4],[10.2,-0.3],[10.3,1.2],[10.3,-2.7],[10.4,0.4],[10.4,-0.8],[10.5,2.2],[10.5,-1.8],[10.5,-0.1],[10.6,0.9],[10.6,-3.2],[10.7,-1.2],[10.7,1.5],[10.8,-0.5],[10.8,0.3],[10.9,-2.1],[10.9,1.1],[10.9,-0.9],[10.2,2.6],[10.6,2.7],[10.8,-2.7],[10.1,-3.6],[10.4,-1.5],[10.7,-0.2],[10.3,0.0],
  [11.0,-1.4],[11.0,0.2],[11.0,1.6],[11.1,-0.6],[11.1,-2.5],[11.2,0.8],[11.2,-1.8],[11.3,-0.2],[11.3,2.2],[11.4,-1.1],[11.4,0.5],[11.5,-3.0],[11.5,1.3],[11.5,-0.5],[11.6,0.0],[11.6,-2.0],[11.7,1.9],[11.7,-1.3],[11.8,0.6],[11.8,-0.8],[11.8,2.8],[11.9,-2.7],[11.9,-0.1],[11.9,1.2],[11.1,2.6],[11.4,-3.6],[11.7,-3.5],[11.3,-0.9],[11.6,0.9],[11.0,-3.3],[11.9,-1.7],
  [12.0,-0.9],[12.0,0.7],[12.0,-2.3],[12.1,-0.2],[12.1,1.8],[12.2,-1.5],[12.2,0.3],[12.3,2.4],[12.3,-3.1],[12.4,-0.6],[12.4,1.0],[12.5,-1.9],[12.5,0.0],[12.5,1.5],[12.6,-1.1],[12.6,2.9],[12.7,0.4],[12.7,-2.6],[12.8,-0.4],[12.8,1.3],[12.9,-1.5],[12.9,0.8],[12.9,2.1],[12.1,-3.7],[12.6,-3.9],[12.3,3.0],[12.7,3.3],[12.0,1.3],[12.4,-1.3],[12.8,-3.3],[12.2,-0.7],
  [13.0,-1.2],[13.0,0.4],[13.0,1.9],[13.1,-0.4],[13.1,-2.4],[13.2,1.1],[13.2,-1.6],[13.3,0.0],[13.3,2.5],[13.4,-0.8],[13.4,0.7],[13.5,-2.0],[13.5,1.5],[13.5,-0.2],[13.6,2.8],[13.6,-1.3],[13.7,0.3],[13.7,-2.9],[13.8,1.0],[13.8,-0.6],[13.9,2.0],[13.9,-1.8],[13.9,-0.1],[13.2,3.2],[13.6,3.4],[13.1,-3.2],[13.8,-3.3],[13.4,2.2],[13.0,-0.7],[13.7,1.7],
  [14.0,-1.0],[14.0,0.6],[14.0,2.2],[14.1,-0.2],[14.1,-2.3],[14.2,1.4],[14.2,-1.5],[14.3,0.2],[14.3,2.9],[14.4,-0.7],[14.4,1.0],[14.5,-2.7],[14.5,2.0],[14.5,-0.1],[14.6,-1.2],[14.6,0.9],[14.7,2.6],[14.7,-0.5],[14.8,1.5],[14.8,-1.9],[14.9,0.3],[14.9,3.2],[14.2,3.5],[14.6,3.9],[14.9,-1.0],[14.3,-3.0],[14.1,1.8],
  [15.0,-0.7],[15.0,1.2],[15.1,-1.6],[15.1,2.5],[15.2,0.3],[15.3,-0.4],[15.3,1.8],[15.4,-2.2],[15.4,3.0],[15.5,0.8],[15.5,-1.1],[15.6,2.1],[15.6,-0.2],[15.7,3.6],[15.7,-1.8],[15.8,1.3],[15.8,0.0],[15.9,2.7],[15.9,-2.6],[15.2,3.4],[15.5,4.1],[15.0,-2.8],
  [16.0,0.5],[16.0,-1.3],[16.1,2.0],[16.2,-0.4],[16.3,1.2],[16.3,3.1],[16.4,-1.9],[16.5,0.2],[16.5,2.5],[16.6,-0.9],[16.7,1.6],[16.7,3.6],[16.8,-0.2],[16.9,2.3],[16.9,-1.6],[16.4,3.8],[16.2,-2.9],
  [17.0,0.9],[17.1,-0.5],[17.1,2.7],[17.3,1.5],[17.4,-1.0],[17.5,0.4],[17.6,2.2],[17.8,-0.3],[17.8,1.1],[17.9,3.0],[17.2,-2.0],[17.7,-2.5],
  [18.1,0.5],[18.3,1.6],[18.4,-0.6],[18.6,1.1],[18.2,2.4],[18.8,1.5],[19.0,0.6]
];
const menBACore: number[][] = [
  [4.95,-1.2],[5.15,-0.6],[5.35,-1.6],[5.55,-0.8],[5.75,-1.2],[5.05,-1.0],
  [6.05,-1.0],[6.25,-0.3],[6.45,-0.7],[6.55,-1.5],[6.75,0.1],[6.85,-1.1],[6.95,-0.4],[6.35,0.0],[6.65,-2.1],[5.95,-0.8],[5.45,-1.0],[5.65,-0.5],
  [7.05,-0.6],[7.05,-1.9],[7.15,0.1],[7.25,-1.3],[7.35,-0.3],[7.45,0.6],[7.45,-1.7],[7.55,-0.7],[7.65,0.3],[7.75,-1.5],[7.85,-0.4],[7.95,0.6],[7.95,-2.0],[7.25,0.4],[7.65,-2.3],[7.85,1.0],
  [8.05,-1.3],[8.05,0.2],[8.15,-0.6],[8.15,1.2],[8.25,-1.6],[8.25,0.0],[8.35,-0.4],[8.35,0.9],[8.45,-2.0],[8.45,-0.9],[8.55,0.4],[8.55,-1.9],[8.65,-0.9],[8.65,1.3],[8.75,-1.3],[8.75,0.3],[8.85,-0.5],[8.85,-2.4],[8.95,0.5],[8.95,-1.1],[8.5,1.4],[8.2,-2.6],
  [9.05,-0.4],[9.05,-1.7],[9.15,0.4],[9.15,1.4],[9.25,-0.7],[9.25,-2.0],[9.35,0.5],[9.35,-1.4],[9.45,-0.2],[9.45,1.0],[9.55,-1.2],[9.55,-2.2],[9.65,0.3],[9.65,1.4],[9.75,-0.5],[9.75,-1.6],[9.85,0.8],[9.85,-0.9],[9.95,-2.0],[9.95,0.0],[9.45,2.0],[9.1,-2.7],[9.7,-2.6],
  [10.05,-1.4],[10.05,0.2],[10.15,-0.5],[10.15,1.2],[10.25,-2.4],[10.25,0.6],[10.35,-1.0],[10.35,1.7],[10.45,-0.3],[10.45,-1.8],[10.55,0.5],[10.55,1.3],[10.65,-0.7],[10.65,-2.2],[10.75,0.2],[10.75,2.1],[10.85,-1.5],[10.85,-0.2],[10.95,0.6],[10.95,-2.6],[10.2,-3.0],[10.5,-2.9],[10.9,1.6],[10.15,2.1],
  [11.05,-0.7],[11.05,0.9],[11.15,-1.6],[11.15,0.0],[11.25,-0.4],[11.25,1.5],[11.35,-2.2],[11.35,0.4],[11.45,-0.7],[11.45,1.9],[11.55,-1.7],[11.55,0.6],[11.65,-0.3],[11.65,-2.5],[11.75,0.3],[11.75,1.3],[11.85,-1.3],[11.85,-0.2],[11.95,0.8],[11.95,-2.2],[11.3,-2.9],[11.7,2.3],[11.2,2.0],[11.9,2.2],
  [12.05,-1.6],[12.05,0.1],[12.05,1.6],[12.15,-0.6],[12.15,0.9],[12.25,-2.6],[12.25,-0.9],[12.35,0.0],[12.35,1.8],[12.45,-1.9],[12.45,0.5],[12.55,-0.7],[12.55,2.2],[12.65,-1.6],[12.65,0.4],[12.75,-0.3],[12.75,1.7],[12.85,-2.1],[12.85,0.1],[12.95,-0.8],[12.95,1.2],[12.5,-2.9],[12.4,2.5],[12.9,2.6],
  [13.05,-1.8],[13.05,0.0],[13.05,1.3],[13.15,-0.9],[13.15,0.9],[13.25,-0.2],[13.25,2.0],[13.35,-1.3],[13.35,-2.6],[13.45,0.2],[13.45,1.4],[13.55,-0.9],[13.55,-2.5],[13.65,0.6],[13.65,2.2],[13.75,-1.0],[13.75,-0.3],[13.85,1.6],[13.85,-2.2],[13.95,0.5],[13.95,2.6],[13.3,2.8],[13.8,-3.0],
  [14.05,-1.6],[14.05,0.0],[14.05,1.5],[14.15,-0.6],[14.15,2.6],[14.25,0.6],[14.25,-2.0],[14.35,-1.0],[14.35,1.9],[14.45,0.3],[14.45,-2.4],[14.55,-0.5],[14.55,1.3],[14.65,0.2],[14.65,2.3],[14.75,-1.4],[14.75,-0.1],[14.85,0.8],[14.85,2.9],[14.95,-0.4],[14.95,-2.2],[14.4,3.1],
  [15.05,0.3],[15.05,-1.2],[15.15,1.1],[15.15,-0.2],[15.25,2.0],[15.25,-1.8],[15.35,0.6],[15.45,-0.5],[15.45,2.5],[15.55,1.3],[15.65,-1.3],[15.65,0.4],[15.75,2.3],[15.85,-0.6],[15.95,1.0],[15.35,3.3],[15.85,3.0],
  [16.05,-0.5],[16.15,1.4],[16.25,0.3],[16.35,2.3],[16.45,-0.8],[16.55,1.0],[16.65,2.9],[16.75,0.4],[16.85,-1.2],[16.95,1.8]
];

// ---------- reference / fit lines ----------
const identityLine = [[-1.3, -1.3], [26.3, 26.3]];
const womenFit = [[4.25, 3.57], [18.92, 20.29]];
const menFit = [[5.16, 4.67], [18.64, 18.42]];
const womenBAFit = [[3.7, -2.15], [18.1, 2.46]];
const menBAFit = [[4.67, -2.03], [19.49, 1.58]];
// [upper limit, mean, lower limit] as drawn
const womenBALevels = [3.41, 0.28, -2.89];
const menBALevels = [3.04, -0.31, -3.61];

// ---------- texts ----------
const titles = ["Women", "Men"];
const panelLetters = ["A", "B", "C", "D"];
const womenStats = ["Intercept: -1.28", "Slope: 1.14", "r = 0.85"];
const menStats = ["Intercept: -0.59", "Slope: 1.02", "r = 0.82"];
const womenBAStats = ["Intercept: -3.33", "Slope: 0.32", "p = <0.001"];
const menBAStats = ["Intercept: -3.18", "Slope: 0.24", "p = <0.001"];
const womenBALabels = ["+1.96", "3.03", "Mean", "-0.31", "-1.96", "-3.66"];
const menBALabels = ["+1.96", "3.39", "Mean", "0.24", "-1.96", "- 2.91"];
const xNames = ["hfPWV (m/s)", "Mean of cfPWV + hfPWV (m/s)"];
const yNames = ["cfPWV (m/s)", "cfPWV - hfPWV (m/s)"];

const FONT = "'Liberation Sans', Arial, sans-serif";

export default function App() {
  const ref = useRef<HTMLDivElement>(null);

  useEffect(() => {
    if (!ref.current) return;
    const chart = echarts.init(ref.current, undefined, { renderer: "svg" });

    const grids = [
      { left: 51.7, top: 31.7, width: 465.6, height: 449 },
      { left: 57.5, top: 540, width: 459.8, height: 451 },
      { left: 563.3, top: 31.7, width: 465, height: 449 },
      { left: 568.7, top: 540, width: 459.6, height: 451 },
    ];
    const xRanges = [[-1.24, 26.21], [-1.2, 26.23], [-1.24, 26.22], [-1.27, 26.15]];
    const yRanges = [[-1.16, 26.22], [-11.0, 11.0], [-1.16, 26.22], [-11.0, 11.0]];
    const yTicks = [scatterYTicks, baYTicks, scatterYTicks, baYTicks];

    const axisCommon = (ticks: number[], margin: number) => ({
      type: "value" as const,
      axisLine: { show: true, onZero: false, lineStyle: { color: "#a6a6a6", width: 1.5 } },
      splitLine: { show: false },
      axisTick: { show: true, customValues: ticks, length: 3, lineStyle: { color: "#333", width: 2 } },
      axisLabel: { customValues: ticks, color: "#1a1a1a", fontSize: 14.5, fontFamily: FONT, margin },
    });

    const xAxis = grids.map((_, i) => ({
      ...axisCommon(xTickValues, 1),
      gridIndex: i,
      min: xRanges[i][0],
      max: xRanges[i][1],
    }));
    const yAxis = grids.map((_, i) => ({
      ...axisCommon(yTicks[i], 4),
      gridIndex: i,
      min: yRanges[i][0],
      max: yRanges[i][1],
    }));

    const scatterSeries = (data: number[][], idx: number) => ({
      type: "scatter",
      xAxisIndex: idx,
      yAxisIndex: idx,
      data,
      symbol: "circle",
      symbolSize: 7.6,
      silent: true,
      z: 2,
      itemStyle: { color: "#ffffff", borderColor: "#000000", borderWidth: 1.5, opacity: 1 },
    });
    const lineSeries = (data: number[][], idx: number, style: any, z: number) => ({
      type: "line",
      xAxisIndex: idx,
      yAxisIndex: idx,
      data,
      symbol: "none",
      showSymbol: false,
      silent: true,
      z,
      clip: true,
      lineStyle: style,
    });
    const levelLines = (levels: number[], idx: number, dashEnd: number) => {
      const xMin = xRanges[idx][0];
      const xMax = xRanges[idx][1];
      return [
        lineSeries([[xMin, levels[0]], [dashEnd, levels[0]]], idx, { color: "#000", width: 3, type: [17, 12], cap: "butt" }, 3),
        lineSeries([[xMin, levels[1]], [xMax, levels[1]]], idx, { color: "#000", width: 2.5 }, 3),
        lineSeries([[xMin, levels[2]], [dashEnd, levels[2]]], idx, { color: "#000", width: 3, type: [17, 12], cap: "butt" }, 3),
      ];
    };
    const redFit = { color: "#ff0000", width: 6.5, type: [28, 30], cap: "butt" };

    const series: any[] = [
      scatterSeries([...womenScatter, ...womenScatterCore], 0),
      lineSeries(identityLine, 0, { color: "#000", width: 2.8 }, 3),
      lineSeries(womenFit, 0, redFit, 4),
      scatterSeries([...womenBA, ...womenBACore], 1),
      ...levelLines(womenBALevels, 1, 25.66),
      lineSeries(womenBAFit, 1, redFit, 4),
      scatterSeries([...menScatter, ...menScatterCore], 2),
      lineSeries(identityLine, 2, { color: "#000", width: 2.8 }, 3),
      lineSeries(menFit, 2, redFit, 4),
      scatterSeries([...menBA, ...menBACore], 3),
      ...levelLines(menBALevels, 3, 25.46),
      lineSeries(menBAFit, 3, redFit, 4),
    ];

    const txt = (text: string, x: number, y: number, size: number, align: string, extra: any = {}) => ({
      type: "text",
      x,
      y,
      silent: true,
      z: 10,
      ...(extra.rotation !== undefined ? { rotation: extra.rotation } : {}),
      style: {
        text,
        font: `${extra.bold ? "bold " : ""}${size}px ${FONT}`,
        fill: extra.fill || "#000",
        align,
        verticalAlign: "middle",
        textAlign: align,
        textVerticalAlign: "middle",
      },
    });

    const graphic: any[] = [];
    graphic.push(txt(titles[0], 265, 30, 35, "center"));
    graphic.push(txt(titles[1], 777, 30, 35, "center"));
    const letterPos = [[80, 34], [80, 547], [594, 34], [592, 546]];
    panelLetters.forEach((l, i) =>
      graphic.push(txt(l, letterPos[i][0], letterPos[i][1], 34, "left", { bold: true, fill: "#ff0000" }))
    );
    const statBlock = (lines: string[], right: number, ys: number[]) =>
      lines.forEach((s, i) => graphic.push(txt(s, right, ys[i], 20, "right")));
    statBlock(womenStats, 517, [381, 405.5, 429.5]);
    statBlock(menStats, 1028, [378.3, 403.3, 427.3]);
    statBlock(womenBAStats, 517, [907, 931.7, 955.5]);
    statBlock(menBAStats, 1028, [911.7, 936.7, 960.5]);
    statBlock(womenBALabels, 508, [683.3, 715, 746.7, 778.3, 810, 842]);
    statBlock(menBALabels, 1019, [688.3, 720, 758.3, 791, 826, 858]);

    graphic.push(txt(xNames[0], 280, 509, 21, "center"));
    graphic.push(txt(xNames[0], 797, 509, 21, "center"));
    graphic.push(txt(xNames[1], 287.5, 1019, 20, "center"));
    graphic.push(txt(xNames[1], 798, 1019, 20, "center"));
    graphic.push(txt(yNames[0], 23, 256, 21, "center", { rotation: Math.PI / 2 }));
    graphic.push(txt(yNames[0], 534, 256, 21, "center", { rotation: Math.PI / 2 }));
    graphic.push(txt(yNames[1], 24, 765, 21, "center", { rotation: Math.PI / 2 }));
    graphic.push(txt(yNames[1], 535, 765, 21, "center", { rotation: Math.PI / 2 }));

    chart.setOption({
      animation: false,
      backgroundColor: "#ffffff",
      grid: grids,
      xAxis,
      yAxis,
      series,
      graphic,
    });

    return () => chart.dispose();
  }, []);

  return (
    <div
      ref={ref}
      style={{ position: "absolute", left: 0, top: 0, width: 1050, height: 1036, background: "#fff" }}
    />
  );
}
